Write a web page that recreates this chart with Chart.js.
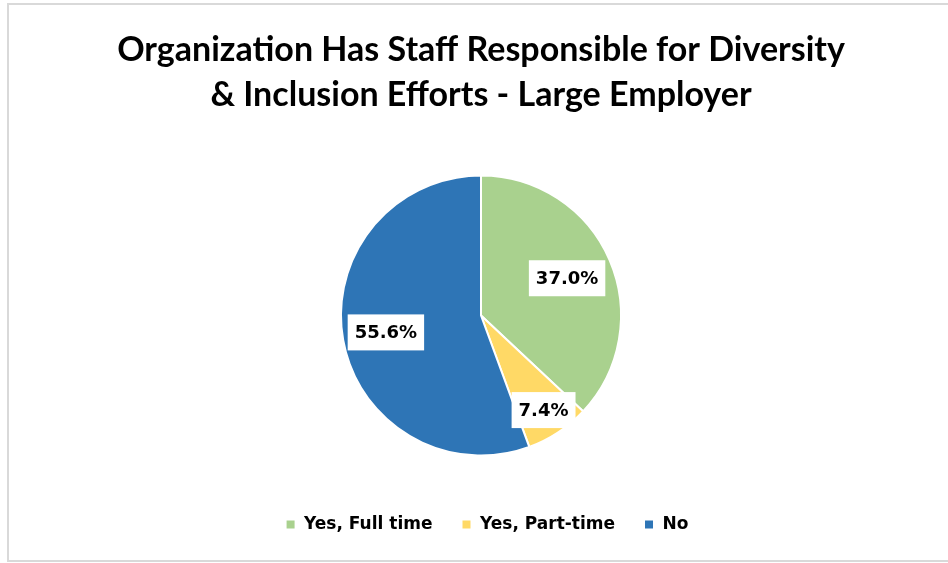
<!DOCTYPE html>
<html>
<head>
<meta charset="utf-8">
<script src="https://cdn.jsdelivr.net/npm/chart.js@4/dist/chart.umd.min.js"></script>
<style>
  body { margin: 0; background: #fff; }
  #wrap { position: relative; width: 948px; height: 563px; overflow: hidden; }
  #frame {
    position: absolute; left: 7px; top: 3px; width: 1000px; height: 559px;
    box-sizing: border-box; border: 2px solid #d9d9d9;
  }
  #staff-chart { position: absolute; left: 0; top: 0; }
</style>
</head>
<body>
<div id="wrap">
  <div id="frame"></div>
  <canvas id="staff-chart" width="948" height="563"></canvas>
</div>
<script>
const categories = ["Yes, Full time", "Yes, Part-time", "No"];
const shares = [37.0, 7.4, 55.6];
const sliceColors = ["#A9D18E", "#FFD966", "#2E75B6"];
// how far out along each slice its value box sits (fraction of the radius)
const labelRadius = [0.67, 0.81, 0.69];

// white boxes with the percentage on each slice
const sliceLabels = {
  id: "sliceLabels",
  afterDatasetsDraw(chart) {
    const ctx = chart.ctx;
    const meta = chart.getDatasetMeta(0);
    ctx.save();
    ctx.font = "bold 18px 'DejaVu Sans'";
    ctx.textAlign = "center";
    ctx.textBaseline = "middle";
    meta.data.forEach((arc, i) => {
      const { x, y, startAngle, endAngle, outerRadius } = arc.getProps(
        ["x", "y", "startAngle", "endAngle", "outerRadius"], true);
      const mid = (startAngle + endAngle) / 2;
      const r = outerRadius * labelRadius[i];
      const lx = x + Math.cos(mid) * r;
      const ly = y + Math.sin(mid) * r;
      const text = shares[i].toFixed(1) + "%";
      const w = ctx.measureText(text).width + 14;
      const h = 36;
      ctx.fillStyle = "#fff";
      ctx.fillRect(lx - w / 2, ly - h / 2, w, h);
      ctx.fillStyle = "#000";
      ctx.fillText(text, lx, ly + 1);
    });
    ctx.restore();
  }
};

// nudge the legend row a little to the right
const legendShift = {
  id: "legendShift",
  afterLayout(chart) {
    chart.legend.left += 12;
  }
};

Chart.defaults.font.family = "'DejaVu Sans', sans-serif";
Chart.defaults.color = "#000";

const chartElement = document.getElementById("staff-chart").getContext("2d");
const staffChart = new Chart(chartElement, {
  type: "pie",
  data: {
    labels: categories,
    datasets: [
      {
        data: shares,
        backgroundColor: sliceColors,
        borderColor: "#fff",
        borderWidth: 2,
      },
    ],
  },
  options: {
    responsive: false,
    animation: false,
    radius: 140,
    layout: {
      padding: { left: 14, right: 0, top: 0, bottom: 20 },
    },
    plugins: {
      title: {
        display: true,
        text: ["Organization Has Staff Responsible for Diversity", "& Inclusion Efforts - Large Employer"],
        color: "#000",
        font: { family: "Lato", size: 34, weight: "bold", lineHeight: 45 / 34 },
        padding: { top: 28, bottom: 26 },
      },
      legend: {
        position: "bottom",
        labels: {
          boxWidth: 10,
          boxHeight: 10,
          padding: 29,
          font: { size: 17, weight: "bold" },
        },
      },
      tooltip: { enabled: false },
    },
  },
  plugins: [sliceLabels, legendShift],
});
</script>
</body>
</html>
